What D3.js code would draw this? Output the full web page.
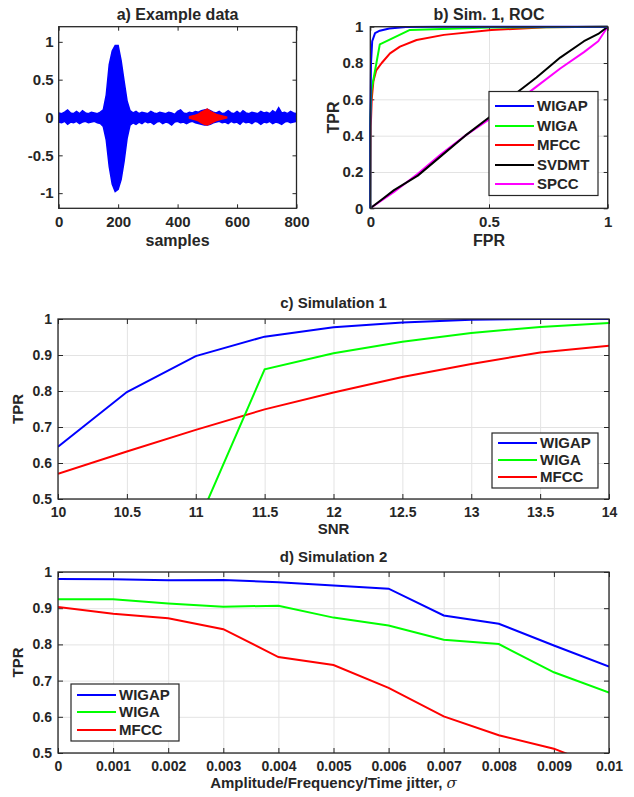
<!DOCTYPE html>
<html>
<head>
<meta charset="utf-8">
<script src="https://cdn.jsdelivr.net/npm/d3@7"></script>
<style>
  body { margin: 0; background: #fff; }
  text { font-family: "Liberation Sans", Arial, sans-serif; font-weight: bold; fill: #262626; }
</style>
</head>
<body>
<div id="chart"></div>
<script>
// ---- a) example data: envelope of the dense signal ----
const sigSamples = [0,10,20,30,40,50,60,70,80,90,100,110,120,130,140,150,160,170,180,190,200,210,220,230,240,250,260,270,280,290,300,310,320,330,340,350,360,370,380,390,400,410,420,430,440,450,460,470,480,490,500,510,520,530,540,550,560,570,580,590,600,610,620,630,640,650,660,670,680,690,700,710,720,730,740,750,760,770,780,790,800]
const sigUpper = [0.06,0.05,0.07,0.10,0.06,0.05,0.08,0.05,0.09,0.06,0.05,0.07,0.06,0.05,0.07,0.10,0.30,0.70,0.88,0.95,0.95,0.75,0.48,0.22,0.09,0.06,0.08,0.05,0.07,0.06,0.05,0.08,0.06,0.05,0.07,0.06,0.05,0.07,0.06,0.04,0.08,0.10,0.06,0.05,0.07,0.06,0.08,0.07,0.09,0.10,0.11,0.09,0.07,0.06,0.08,0.05,0.06,0.09,0.06,0.05,0.08,0.05,0.09,0.06,0.05,0.07,0.06,0.05,0.08,0.06,0.07,0.05,0.09,0.06,0.13,0.06,0.07,0.05,0.08,0.06,0.05]
const sigLower = [-0.06,-0.07,-0.05,-0.09,-0.06,-0.07,-0.05,-0.08,-0.06,-0.05,-0.07,-0.06,-0.05,-0.07,-0.08,-0.12,-0.30,-0.65,-0.88,-0.98,-0.95,-0.82,-0.58,-0.28,-0.10,-0.07,-0.09,-0.06,-0.08,-0.05,-0.07,-0.06,-0.09,-0.06,-0.05,-0.08,-0.06,-0.07,-0.10,-0.06,-0.05,-0.07,-0.06,-0.08,-0.06,-0.05,-0.07,-0.08,-0.09,-0.10,-0.10,-0.09,-0.07,-0.06,-0.05,-0.07,-0.06,-0.08,-0.05,-0.07,-0.06,-0.09,-0.05,-0.07,-0.06,-0.08,-0.05,-0.06,-0.09,-0.06,-0.07,-0.05,-0.08,-0.06,-0.07,-0.09,-0.06,-0.05,-0.07,-0.06,-0.05]
// small (red) event around sample 500
const evSamples = [440,450,460,470,480,490,500,510,520,530,540,550,560,565]
const evUpper = [0.01,0.02,0.03,0.045,0.07,0.09,0.11,0.08,0.06,0.04,0.03,0.02,0.01,0.005]
const evLower = [-0.01,-0.02,-0.03,-0.045,-0.07,-0.09,-0.10,-0.08,-0.06,-0.04,-0.03,-0.02,-0.01,-0.005]

// ---- b) ROC curves, [FPR, TPR] ----
const rocWIGAP = [[0,0],[0,0.45],[0.003,0.8],[0.008,0.92],[0.02,0.965],[0.04,0.978],[0.08,0.99],[0.15,0.998],[0.3,1],[1,1]]
const rocWIGA = [[0,0],[0,0.5],[0.005,0.65],[0.04,0.903],[0.167,0.982],[0.5,0.995],[1,1]]
const rocMFCC = [[0,0],[0.002,0.45],[0.006,0.6],[0.013,0.7],[0.025,0.76],[0.048,0.8],[0.083,0.853],[0.125,0.89],[0.195,0.927],[0.31,0.955],[0.51,0.982],[0.74,0.997],[1,1]]
const rocSVDMT = [[0,0],[0.05,0.05],[0.1,0.1],[0.2,0.18],[0.3,0.29],[0.4,0.4],[0.5,0.5],[0.6,0.62],[0.7,0.72],[0.8,0.83],[0.9,0.92],[0.96,0.96],[1,1]]
const rocSPCC = [[0,0],[0.1,0.09],[0.2,0.19],[0.3,0.3],[0.4,0.4],[0.5,0.49],[0.6,0.57],[0.7,0.67],[0.8,0.77],[0.9,0.86],[0.96,0.92],[1,1]]

// ---- c) Simulation 1: TPR vs SNR ----
const snr = [10,10.5,11,11.5,12,12.5,13,13.5,14]
const sim1WIGAP = [0.645,0.797,0.897,0.951,0.977,0.990,0.998,1.0,1.0]
const sim1WIGA = [null,null,0.42,0.86,0.905,0.937,0.961,0.978,0.989]
const sim1MFCC = [0.57,0.632,0.692,0.749,0.796,0.839,0.875,0.907,0.926]

// ---- d) Simulation 2: TPR vs jitter ----
const jitter = [0,0.001,0.002,0.003,0.004,0.005,0.006,0.007,0.008,0.009,0.01]
const sim2WIGAP = [0.981,0.980,0.977,0.978,0.972,0.963,0.954,0.880,0.857,0.797,0.739]
const sim2WIGA = [0.925,0.925,0.913,0.904,0.907,0.874,0.852,0.813,0.801,0.723,0.667]
const sim2MFCC = [0.903,0.885,0.872,0.842,0.765,0.743,0.680,0.601,0.549,0.512,0.452]

// tick values
const ticksAx = [0,200,400,600,800]
const ticksAy = [-1,-0.5,0,0.5,1]
const ticksBx = [0,0.5,1]
const ticksBy = [0,0.2,0.4,0.6,0.8,1]
const ticksCy = [0.5,0.6,0.7,0.8,0.9,1]

const methods = ["WIGAP", "WIGA", "MFCC", "SVDMT", "SPCC"]
const colours = { WIGAP: "#0000ff", WIGA: "#00ff00", MFCC: "#ff0000", SVDMT: "#000000", SPCC: "#ff00ff" }

const width = 634, height = 797
const boxColor = "#262626", gridColor = "#e3e3e3"

const svg = d3.select("#chart").append("svg")
    .attr("width", width)
    .attr("height", height)
    .attr("viewBox", [0, 0, width, height])

const fmt = d => String(d)

// draws box, grid, inward ticks on all 4 sides, tick labels
function frame(p, x, y, o) {
    const g = svg.append("g")
    const w = p.x1 - p.x0, h = p.y1 - p.y0
    if (o.grid) {
        g.append("g").attr("transform", `translate(0,${p.y1})`)
            .call(d3.axisBottom(x).tickValues(o.xt).tickSize(-h).tickFormat(""))
            .call(s => s.select(".domain").remove())
            .call(s => s.selectAll("line").attr("stroke", gridColor))
        g.append("g").attr("transform", `translate(${p.x0},0)`)
            .call(d3.axisLeft(y).tickValues(o.yt).tickSize(-w).tickFormat(""))
            .call(s => s.select(".domain").remove())
            .call(s => s.selectAll("line").attr("stroke", gridColor))
    }
    const tl = o.tick
    const axes = [
        [d3.axisBottom(x).tickValues(o.xt).tickSize(-tl).tickPadding(o.xpad).tickFormat(fmt), `translate(0,${p.y1})`],
        [d3.axisTop(x).tickValues(o.xt).tickSize(-tl).tickFormat(""), `translate(0,${p.y0})`],
        [d3.axisLeft(y).tickValues(o.yt).tickSize(-tl).tickPadding(o.ypad).tickFormat(fmt), `translate(${p.x0},0)`],
        [d3.axisRight(y).tickValues(o.yt).tickSize(-tl).tickFormat(""), `translate(${p.x1},0)`]
    ]
    axes.forEach(([ax, tr]) => {
        g.append("g").attr("transform", tr).call(ax)
            .call(s => s.select(".domain").remove())
            .call(s => s.selectAll("line").attr("stroke", boxColor).attr("stroke-width", 1))
            .call(s => s.selectAll("text").attr("font-size", o.fs).attr("fill", boxColor)
                .attr("font-family", "Liberation Sans, Arial, sans-serif").attr("font-weight", "bold"))
    })
    return g
}

function outline(p) {
    svg.append("rect")
        .attr("x", p.x0).attr("y", p.y0)
        .attr("width", p.x1 - p.x0).attr("height", p.y1 - p.y0)
        .attr("fill", "none").attr("stroke", boxColor).attr("stroke-width", 1.3)
}

function clip(id, p) {
    svg.append("clipPath").attr("id", id).append("rect")
        .attr("x", p.x0).attr("y", p.y0).attr("width", p.x1 - p.x0).attr("height", p.y1 - p.y0)
}

function label(txt, x, y, fs, rot) {
    const t = svg.append("text").attr("text-anchor", "middle").attr("font-size", fs).text(txt)
    if (rot) t.attr("transform", `translate(${x},${y}) rotate(-90)`)
    else t.attr("x", x).attr("y", y)
    return t
}

function legend(names, bx, by, bw, bh, rows, fs) {
    const g = svg.append("g")
    g.append("rect").attr("x", bx).attr("y", by).attr("width", bw).attr("height", bh)
        .attr("fill", "#fff").attr("stroke", boxColor).attr("stroke-width", 1.2)
    names.forEach((n, i) => {
        const yy = rows[i]
        g.append("line").attr("x1", bx + 6).attr("x2", bx + 45).attr("y1", yy).attr("y2", yy)
            .attr("stroke", colours[n]).attr("stroke-width", 2)
        g.append("text").attr("x", bx + 48).attr("y", yy).attr("dy", "0.36em")
            .attr("font-size", fs).attr("fill", "#000").text(n)
    })
}

// ================= a) Example data =================
const pa = { x0: 58.7, x1: 296.5, y0: 26.7, y1: 208.3 }
const xa = d3.scaleLinear().domain([0, 800]).range([pa.x0, pa.x1])
const ya = d3.scaleLinear().domain([-1.2, 1.2]).range([pa.y1, pa.y0])
frame(pa, xa, ya, { grid: false, xt: ticksAx, yt: ticksAy, tick: 4, xpad: 8, ypad: 5, fs: 15 })
clip("clipA", pa)
const areaA = d3.area().x(d => xa(d[0])).y0(d => ya(d[1])).y1(d => ya(d[2]))
svg.append("path")
    .datum(sigSamples.map((s, i) => [s, sigLower[i], sigUpper[i]]))
    .attr("clip-path", "url(#clipA)")
    .attr("d", areaA).attr("fill", "#0000ff").attr("stroke", "#0000ff").attr("stroke-width", 1.5)
svg.append("path")
    .datum(evSamples.map((s, i) => [s, evLower[i], evUpper[i]]))
    .attr("d", areaA).attr("fill", "#ff0000").attr("stroke", "#ff0000").attr("stroke-width", 1.5)
outline(pa)
label("a) Example data", (pa.x0 + pa.x1) / 2, 20, 16).attr("fill", "#000")
label("samples", (pa.x0 + pa.x1) / 2, 246, 16)

// ================= b) Sim. 1, ROC =================
const pb = { x0: 370.3, x1: 607.7, y0: 26.7, y1: 208.3 }
const xb = d3.scaleLinear().domain([0, 1]).range([pb.x0, pb.x1])
const yb = d3.scaleLinear().domain([0, 1]).range([pb.y1, pb.y0])
frame(pb, xb, yb, { grid: true, xt: ticksBx, yt: ticksBy, tick: 4, xpad: 8, ypad: 7, fs: 15 })
const lineB = d3.line().x(d => xb(d[0])).y(d => yb(d[1]))
const rocs = { WIGAP: rocWIGAP, WIGA: rocWIGA, MFCC: rocMFCC, SVDMT: rocSVDMT, SPCC: rocSPCC }
;["SPCC", "SVDMT", "MFCC", "WIGA", "WIGAP"].forEach(n => {
    svg.append("path").datum(rocs[n]).attr("d", lineB)
        .attr("fill", "none").attr("stroke", colours[n]).attr("stroke-width", 2)
        .attr("stroke-linejoin", "round")
})
outline(pb)
legend(methods, 489, 91.5, 109, 104, [106, 126, 145, 165, 184], 15)
label("b) Sim. 1, ROC", (pb.x0 + pb.x1) / 2, 20, 16).attr("fill", "#000")
label("FPR", (pb.x0 + pb.x1) / 2, 246, 16)
label("TPR", 339, (pb.y0 + pb.y1) / 2, 16, true)

// ================= c) Simulation 1 =================
const pc = { x0: 58, x1: 609, y0: 319, y1: 499 }
const xc = d3.scaleLinear().domain([10, 14]).range([pc.x0, pc.x1])
const yc = d3.scaleLinear().domain([0.5, 1]).range([pc.y1, pc.y0])
frame(pc, xc, yc, { grid: true, xt: snr, yt: ticksCy, tick: 5, xpad: 8, ypad: 6, fs: 14 })
clip("clipC", pc)
const sim1 = { WIGAP: sim1WIGAP, WIGA: sim1WIGA, MFCC: sim1MFCC }
const lineC = d3.line().defined(d => d[1] != null).x(d => xc(d[0])).y(d => yc(d[1]))
;["MFCC", "WIGA", "WIGAP"].forEach(n => {
    svg.append("path").datum(snr.map((s, i) => [s, sim1[n][i]]))
        .attr("clip-path", "url(#clipC)")
        .attr("d", lineC).attr("fill", "none").attr("stroke", colours[n]).attr("stroke-width", 2)
})
outline(pc)
legend(["WIGAP", "WIGA", "MFCC"], 492, 433, 106, 55, [443, 460, 477], 15)
label("c) Simulation 1", (pc.x0 + pc.x1) / 2, 308, 15).attr("fill", "#000")
label("SNR", (pc.x0 + pc.x1) / 2, 534, 15)
label("TPR", 23, (pc.y0 + pc.y1) / 2, 15, true)

// ================= d) Simulation 2 =================
const pd = { x0: 58, x1: 609, y0: 572, y1: 753 }
const xd = d3.scaleLinear().domain([0, 0.01]).range([pd.x0, pd.x1])
const yd = d3.scaleLinear().domain([0.5, 1]).range([pd.y1, pd.y0])
frame(pd, xd, yd, { grid: true, xt: jitter, yt: ticksCy, tick: 5, xpad: 8, ypad: 6, fs: 14 })
clip("clipD", pd)
const sim2 = { WIGAP: sim2WIGAP, WIGA: sim2WIGA, MFCC: sim2MFCC }
const lineD = d3.line().x(d => xd(d[0])).y(d => yd(d[1]))
;["MFCC", "WIGA", "WIGAP"].forEach(n => {
    svg.append("path").datum(jitter.map((s, i) => [s, sim2[n][i]]))
        .attr("clip-path", "url(#clipD)")
        .attr("d", lineD).attr("fill", "none").attr("stroke", colours[n]).attr("stroke-width", 2)
})
outline(pd)
legend(["WIGAP", "WIGA", "MFCC"], 71, 684, 108, 57, [695, 712, 730], 15)
label("d) Simulation 2", (pd.x0 + pd.x1) / 2, 562, 15).attr("fill", "#000")
const xl = label("Amplitude/Frequency/Time jitter, ", (pd.x0 + pd.x1) / 2, 788, 15)
xl.append("tspan").attr("font-family", "DejaVu Serif, serif").attr("font-style", "italic")
    .attr("font-weight", "normal").text("σ")
label("TPR", 23, (pd.y0 + pd.y1) / 2, 15, true)
</script>
</body>
</html>
